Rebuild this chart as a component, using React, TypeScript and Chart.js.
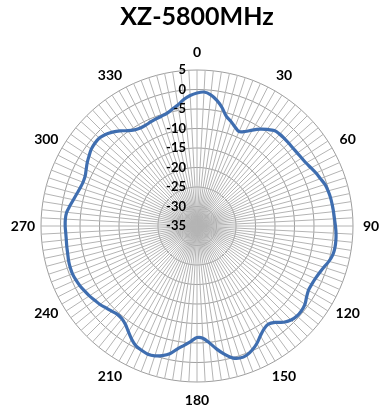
import React, { useEffect, useRef } from 'react';
import { Chart, registerables } from 'chart.js';

Chart.register(...registerables);

// Categories: azimuth angle (degrees), one spoke every 3 degrees
const angles = [
  0, 3, 6, 9, 12, 15, 18, 21, 24, 27,
  30, 33, 36, 39, 42, 45, 48, 51, 54, 57,
  60, 63, 66, 69, 72, 75, 78, 81, 84, 87,
  90, 93, 96, 99, 102, 105, 108, 111, 114, 117,
  120, 123, 126, 129, 132, 135, 138, 141, 144, 147,
  150, 153, 156, 159, 162, 165, 168, 171, 174, 177,
  180, 183, 186, 189, 192, 195, 198, 201, 204, 207,
  210, 213, 216, 219, 222, 225, 228, 231, 234, 237,
  240, 243, 246, 249, 252, 255, 258, 261, 264, 267,
  270, 273, 276, 279, 282, 285, 288, 291, 294, 297,
  300, 303, 306, 309, 312, 315, 318, 321, 324, 327,
  330, 333, 336, 339, 342, 345, 348, 351, 354, 357,
];

// Series: gain (dB)
const gainDb = [
  -0.9, -0.6, -1.2, -2.4, -4.0, -5.9, -6.8, -7.8, -8.5, -7.8,
  -6.6, -5.4, -4.4, -3.5, -3.3, -3.3, -3.3, -3.3, -3.2, -3.0,
  -2.7, -2.2, -1.6, -1.1, -0.5, -0.2, 0.0, 0.1, 0.2, 0.3,
  0.5, 0.7, 0.8, 0.8, 0.6, 0.0, -0.8, -1.4, -1.8, -2.0,
  -2.0, -1.5, -0.8, -0.5, -0.5, -0.9, -1.8, -3.2, -3.9, -3.5,
  -2.5, -1.2, -0.2, 0.5, 0.6, 0.0, -1.4, -3.1, -4.9, -6.2,
  -6.4, -5.4, -4.3, -3.1, -1.5, -0.6, 0.0, 0.2, -0.1, -0.5,
  -1.5, -2.7, -3.8, -4.4, -4.5, -4.1, -3.6, -3.0, -2.6, -2.1,
  -1.7, -1.3, -1.0, -0.8, -0.8, -0.9, -1.1, -1.2, -1.3, -1.3,
  -1.2, -1.2, -1.4, -2.0, -2.6, -3.1, -3.5, -3.7, -3.6, -3.1,
  -2.5, -2.0, -1.5, -1.3, -1.3, -1.8, -2.6, -3.6, -4.8, -5.6,
  -6.0, -6.0, -5.8, -5.6, -5.4, -5.1, -4.4, -3.6, -2.4, -1.5,
];

// Angle labels shown around the plot
const labeledAngles = [0, 30, 60, 90, 120, 150, 180, 210, 240, 270, 300, 330];

// Radial axis
const axisMin = -35;
const axisMax = 5;
const axisStep = 5;

const chartTitle = 'XZ-5800MHz';

const labelsPlugin = {
  id: 'excelLabels',
  afterDraw(chart: any) {
    const scale = chart.scales.r;
    const ctx = chart.ctx;
    ctx.save();
    ctx.fillStyle = '#000000';
    ctx.textBaseline = 'middle';
    // radial tick labels, right-aligned left of the 0° spoke
    ctx.font = 'bold 13px Lato';
    ctx.textAlign = 'right';
    scale.ticks.forEach((t: any) => {
      const d = scale.getDistanceFromCenterForValue(t.value);
      ctx.fillText(String(t.value), scale.xCenter - 11, scale.yCenter - d);
    });
    // angle labels
    ctx.font = 'bold 14px Lato';
    ctx.textAlign = 'center';
    angles.forEach((a, i) => {
      if (labeledAngles.indexOf(a) < 0) return;
      const p = scale.getPointPosition(i, scale.drawingArea + 18);
      ctx.fillText(String(a), p.x, p.y);
    });
    ctx.restore();
  },
};

export default function App() {
  const ref = useRef<HTMLCanvasElement | null>(null);

  useEffect(() => {
    if (!ref.current) return;
    const chart = new Chart(ref.current, {
      type: 'radar',
      data: {
        labels: angles.map(String),
        datasets: [
          {
            data: gainDb,
            borderColor: '#3f6eb0',
            borderWidth: 3.2,
            backgroundColor: 'rgba(0,0,0,0)',
            fill: false,
            pointRadius: 0,
            pointHoverRadius: 0,
            tension: 0.3,
          },
        ],
      },
      options: {
        responsive: false,
        animation: false,
        devicePixelRatio: 1,
        layout: { padding: { left: 40, right: 26, top: 0, bottom: 32.5 } },
        plugins: {
          legend: { display: false },
          tooltip: { enabled: false },
          title: {
            display: true,
            text: chartTitle,
            color: '#000000',
            font: { family: 'Lato', size: 25, weight: 'bold' },
            padding: { top: 2, bottom: 37.7 },
          },
        },
        scales: {
          r: {
            min: axisMin,
            max: axisMax,
            beginAtZero: false,
            ticks: { stepSize: axisStep, display: false },
            pointLabels: { display: false },
            grid: { color: '#9e9e9e', lineWidth: 1 },
            angleLines: { color: '#b4b4b4', lineWidth: 1 },
          },
        },
      },
      plugins: [labelsPlugin],
    });
    return () => chart.destroy();
  }, []);

  return (
    <div style={{ position: 'fixed', left: 0, top: 0, width: 380, height: 416, background: '#ffffff' }}>
      <canvas ref={ref} width={380} height={416} style={{ display: 'block' }} />
    </div>
  );
}
